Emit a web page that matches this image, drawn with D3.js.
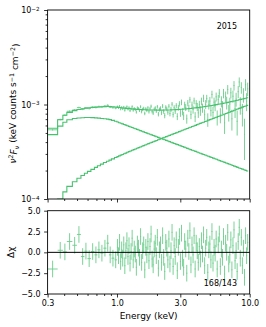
<!DOCTYPE html>
<html><head><meta charset="utf-8">
<script src="https://cdn.jsdelivr.net/npm/d3@7"></script>
<style>body{margin:0;background:#fff}svg{display:block}text{font-family:"DejaVu Sans",sans-serif;fill:#000}</style>
</head><body>
<script>
// ---- data ----
const UNIT = 1e-4;
// model grid (keV)
const modelEdges = [0.300,0.357,0.391,0.419,0.461,0.499,0.535,0.568,0.599,0.636,0.676,0.712,0.750,0.790,0.833,0.870,0.908,0.957,0.999,
1.028,1.058,1.088,1.119,1.151,1.184,1.218,1.252,1.288,1.325,1.363,1.401,1.441,1.482,1.525,1.568,1.613,1.659,1.706,1.755,
1.805,1.856,1.909,1.964,2.020,2.077,2.136,2.197,2.260,2.324,2.391,2.459,2.529,2.601,2.675,2.751,2.830,2.910,2.993,3.079,
3.166,3.257,3.349,3.445,3.543,3.644,3.748,3.855,3.965,4.078,4.194,4.313,4.436,4.563,4.693,4.826,4.964,5.105,5.251,5.400,
5.554,5.712,5.875,6.043,6.215,6.392,6.574,6.761,6.954,7.152,7.356,7.565,7.781,8.002,8.230,8.465,8.706,8.954,9.209,9.471,9.741];
// soft component (units 1e-4 keV counts s^-1 cm^-2)
const softComp = [4.8,5.9,6.5,6.9,7.1,7.2,7.25,7.28,7.28,7.26,7.22,7.17,7.12,7.06,7.0,6.92,6.80,6.66,
6.52,6.42,6.33,6.23,6.14,6.05,5.96,5.87,5.78,5.70,
5.61,5.53,5.45,5.37,5.29,5.21,5.13,5.06,4.98,4.91,
4.84,4.77,4.70,4.63,4.56,4.49,4.42,4.36,4.29,4.23,
4.17,4.11,4.05,3.99,3.93,3.87,3.81,3.76,3.70,3.65,
3.59,3.54,3.49,3.43,3.38,3.33,3.28,3.24,3.19,3.14,
3.09,3.05,3.00,2.96,2.92,2.87,2.83,2.79,2.75,2.71,
2.67,2.63,2.59,2.55,2.51,2.48,2.44,2.40,2.37,2.33,
2.30,2.26,2.23,2.20,2.16,2.13,2.10,2.07,2.04,2.01,1.98];
// absorbed power-law component
const powComp = [0.80,1.00,1.19,1.36,1.52,1.66,1.77,1.87,1.96,2.06,2.16,2.25,2.34,2.43,2.51,2.58,2.66,2.75,
2.81,2.86,2.91,2.96,3.01,3.06,3.12,3.17,3.22,3.28,
3.33,3.38,3.44,3.50,3.55,3.61,3.67,3.73,3.79,3.85,
3.91,3.97,4.03,4.10,4.16,4.23,4.30,4.36,4.43,4.50,
4.57,4.64,4.71,4.79,4.86,4.94,5.01,5.09,5.17,5.25,
5.33,5.41,5.50,5.58,5.67,5.75,5.84,5.93,6.02,6.12,
6.21,6.31,6.40,6.50,6.60,6.70,6.81,6.91,7.02,7.12,
7.23,7.34,7.46,7.57,7.69,7.80,7.92,8.04,8.17,8.29,
8.42,8.55,8.68,8.81,8.95,9.09,9.22,9.37,9.51,9.65,9.80];
// data grid (keV)
const dataEdges = [0.300,0.357,0.391,0.419,0.461,0.499,0.535,0.568,0.599,0.636,0.676,0.712,0.750,0.790,0.833,0.870,0.908,0.957,0.999,
1.017,1.036,1.055,1.075,1.094,1.114,1.135,1.156,1.177,1.199,1.221,1.243,1.266,1.289,1.313,1.337,1.362,1.387,1.412,1.438,
1.465,1.492,1.519,1.547,1.575,1.604,1.634,1.664,1.694,1.726,1.757,1.790,1.823,1.856,1.890,1.925,1.960,1.996,2.033,2.070,
2.109,2.147,2.187,2.227,2.268,2.310,2.352,2.395,2.439,2.484,2.530,2.576,2.624,2.672,2.721,2.771,2.822,2.874,2.927,2.980,
3.035,3.091,3.148,3.206,3.265,3.325,3.386,3.448,3.511,3.576,3.642,3.709,3.777,3.846,3.917,3.989,4.062,4.137,4.213,4.291,
4.369,4.450,4.532,4.615,4.700,4.787,4.875,4.964,5.056,5.149,5.243,5.340,5.438,5.538,5.639,5.743,5.849,5.956,6.066,6.177,
6.291,6.406,6.524,6.644,6.766,6.890,7.017,7.146,7.277,7.411,7.548,7.687,7.828,7.972,8.118,8.267,8.419,8.574,8.732,8.892,
9.056,9.222,9.391,9.564,9.741];
// residuals (delta chi), one per data bin
const residuals = [-2.0,0.25,0.05,1.3,0.85,2.15,-0.5,0.15,-0.75,0.1,-0.3,0.3,-0.1,0.5,1.1,-0.3,-0.7,-0.9,
0.6,-0.4,1.2,-1.1,0.3,-0.7,0.9,-1.6,0.2,1.4,
-0.5,0.8,-1.3,0.1,1.7,-0.9,0.4,-0.2,-1.8,1.0,
0.5,-0.6,1.9,-1.2,0.2,0.9,-2.1,0.6,-0.3,1.3,
-1.0,0.7,2.2,-0.8,-1.5,0.4,1.1,-0.4,1.8,-1.9,
0.3,0.9,-1.2,2.0,-0.6,-2.3,1.2,0.5,-0.9,1.6,
-1.4,0.2,2.4,-1.7,0.8,-0.5,1.5,-2.2,0.6,1.9,
-1.1,2.3,-0.7,-1.8,1.3,0.4,-2.5,1.7,0.1,2.6,
-1.5,0.9,-0.3,2.0,-2.0,1.1,0.2,-1.2,0.7,-0.8,
1.4,-0.2,2.1,-1.6,0.5,1.8,-2.4,0.3,1.0,-0.9,
2.5,-1.3,0.6,-0.1,1.6,-2.0,0.9,2.2,-1.7,0.4,
-0.6,1.9,-2.6,1.1,0.0,2.4,-1.4,-0.3,1.5,-2.1,
0.8,2.7,-1.0,0.2,-2.3,1.3,3.0,-0.7,1.8,-1.6,
0.5,-3.0,2.0,-0.4,1.2];
// relative 1-sigma error of each data bin
const relErr = [0.018,0.020,0.020,0.021,0.021,0.022,0.023,0.023,0.024,0.025,0.025,0.026,0.027,0.027,0.027,0.027,0.028,0.028,
0.028,0.028,0.029,0.029,0.030,0.030,0.030,0.031,0.031,0.032,
0.032,0.033,0.033,0.034,0.034,0.035,0.035,0.036,0.036,0.037,
0.037,0.038,0.038,0.039,0.039,0.040,0.040,0.041,0.041,0.042,
0.042,0.043,0.044,0.044,0.045,0.046,0.046,0.047,0.048,0.049,
0.050,0.051,0.052,0.053,0.054,0.055,0.056,0.057,0.058,0.059,
0.060,0.061,0.062,0.063,0.064,0.066,0.068,0.071,0.074,0.077,
0.080,0.081,0.082,0.084,0.085,0.086,0.087,0.088,0.090,0.091,
0.092,0.093,0.095,0.096,0.098,0.099,0.101,0.102,0.104,0.105,
0.107,0.109,0.110,0.112,0.113,0.115,0.117,0.118,0.120,0.121,
0.123,0.125,0.127,0.129,0.131,0.133,0.135,0.137,0.139,0.141,
0.143,0.145,0.147,0.149,0.152,0.154,0.156,0.158,0.161,0.163,
0.165,0.168,0.170,0.173,0.175,0.178,0.181,0.183,0.186,0.188,
0.191,0.194,0.196,0.199,0.202];
const xMajor = [0.3,1,3,10], xTickLabels = ["0.3","1.0","3.0","10.0"];
const xMinor = [0.4,0.5,0.6,0.7,0.8,0.9,2,4,5,6,7,8,9];
const yTopMajor = [1e-4,1e-3,1e-2], yTopExponents = ["−4","−3","−2"];
const yTopMinor = [2e-4,3e-4,4e-4,5e-4,6e-4,7e-4,8e-4,9e-4,2e-3,3e-3,4e-3,5e-3,6e-3,7e-3,8e-3,9e-3];
const yBotTicks = [-5,-2.5,0,2.5,5], yBotLabels = ["−5.0","−2.5","0.0","2.5","5.0"];
const yearLabel = "2015", chiLabel = "168/143";

// ---- layout ----
const W=266,H=327, L=47.6, R=249.7, T1=10, B1=199, T2=210.7, B2=294;
const modelColor = "#45c26d", dataColor = "#6dce8d";
const svg = d3.select("body").append("svg").attr("width",W).attr("height",H);
const x = d3.scaleLog().domain([0.3,10]).range([L,R]);
const yT = d3.scaleLog().domain([1e-4,1e-2]).range([B1,T1]);
const yB = d3.scaleLinear().domain([-5,5]).range([B2,T2]);

const defs = svg.append("defs");
defs.append("clipPath").attr("id","cT").append("rect").attr("x",L).attr("y",T1).attr("width",R-L).attr("height",B1-T1);
defs.append("clipPath").attr("id","cB").append("rect").attr("x",L).attr("y",T2).attr("width",R-L).attr("height",B2-T2);

const M = modelEdges.length-1;
const mbins = d3.range(M).map(i=>{
  const s=softComp[i]*UNIT, p=powComp[i]*UNIT;
  return {lo:modelEdges[i],hi:modelEdges[i+1],s,p,t:s+p};
});
const N = dataEdges.length-1;
const bins = d3.range(N).map(i=>{
  const lo=dataEdges[i], hi=dataEdges[i+1], c=Math.sqrt(lo*hi);
  const mi = Math.min(M-1, Math.max(0, d3.bisectRight(modelEdges,c)-1));
  const t = mbins[mi].t, e = relErr[i]*t;
  return {lo,hi,c,r:residuals[i],err:e,d:t+residuals[i]*e};
});

// ---- top panel ----
const gT = svg.append("g").attr("clip-path","url(#cT)");
gT.selectAll("line.dv").data(bins).join("line").attr("x1",d=>x(d.c)).attr("x2",d=>x(d.c))
  .attr("y1",d=>yT(d.d-d.err)).attr("y2",d=>yT(d.d+d.err)).attr("stroke",dataColor).attr("stroke-width",1).attr("opacity",0.9);
gT.selectAll("line.dh").data(bins).join("line").attr("x1",d=>x(d.lo)).attr("x2",d=>x(d.hi))
  .attr("y1",d=>yT(d.d)).attr("y2",d=>yT(d.d)).attr("stroke",dataColor).attr("stroke-width",1).attr("opacity",0.9);
const step = key => {
  const pts = mbins.map(b=>[x(b.lo),yT(Math.max(b[key],1e-6))]);
  pts.push([x(mbins[M-1].hi), yT(mbins[M-1][key])]);
  return d3.line().curve(d3.curveStepAfter)(pts);
};
["t","s","p"].forEach(k=>gT.append("path").attr("d",step(k)).attr("fill","none").attr("stroke",modelColor).attr("stroke-width",1.1));

// ---- bottom panel ----
const gB = svg.append("g").attr("clip-path","url(#cB)");
gB.selectAll("line.rv").data(bins).join("line").attr("x1",d=>x(d.c)).attr("x2",d=>x(d.c))
  .attr("y1",d=>yB(d.r-1)).attr("y2",d=>yB(d.r+1)).attr("stroke",dataColor).attr("stroke-width",1).attr("opacity",0.9);
gB.selectAll("line.rh").data(bins).join("line").attr("x1",d=>x(d.lo)).attr("x2",d=>x(d.hi))
  .attr("y1",d=>yB(d.r)).attr("y2",d=>yB(d.r)).attr("stroke",dataColor).attr("stroke-width",1).attr("opacity",0.9);
svg.append("line").attr("x1",L).attr("x2",R).attr("y1",yB(0)).attr("y2",yB(0)).attr("stroke","#000").attr("stroke-width",1);

// ---- axes ----
function styleAxis(g){ g.select(".domain").remove(); g.selectAll(".tick line").attr("stroke","#000").attr("stroke-width",0.8);
  g.selectAll(".tick text").attr("font-size",8).attr("font-family","DejaVu Sans"); }
svg.append("g").attr("transform",`translate(0,${B1})`).call(d3.axisBottom(x).tickValues(xMajor).tickSize(3.5).tickFormat("")).call(styleAxis);
svg.append("g").attr("transform",`translate(0,${B1})`).call(d3.axisBottom(x).tickValues(xMinor).tickSize(2).tickFormat("")).call(styleAxis);
const gyT = svg.append("g").attr("transform",`translate(${L},0)`).call(d3.axisLeft(yT).tickValues(yTopMajor).tickSize(3.5).tickPadding(4.5).tickFormat(()=>"")).call(styleAxis);
gyT.selectAll(".tick text").each(function(d,i){ const t=d3.select(this); t.attr("dy","0.32em");
  t.append("tspan").text("10"); t.append("tspan").attr("dy","-0.45em").attr("font-size",5.6).text(yTopExponents[i]); });
svg.append("g").attr("transform",`translate(${L},0)`).call(d3.axisLeft(yT).tickValues(yTopMinor).tickSize(2).tickFormat("")).call(styleAxis);
svg.append("g").attr("transform",`translate(0,${B2})`).call(d3.axisBottom(x).tickValues(xMajor).tickSize(3.5).tickPadding(3).tickFormat((d,i)=>xTickLabels[i])).call(styleAxis);
svg.append("g").attr("transform",`translate(0,${B2})`).call(d3.axisBottom(x).tickValues(xMinor).tickSize(2).tickFormat("")).call(styleAxis);
svg.append("g").attr("transform",`translate(${L},0)`).call(d3.axisLeft(yB).tickValues(yBotTicks).tickSize(3.5).tickPadding(3.5).tickFormat((d,i)=>yBotLabels[i])).call(styleAxis);

[[T1,B1],[T2,B2]].forEach(([t,b])=>svg.append("rect").attr("x",L).attr("y",t).attr("width",R-L).attr("height",b-t)
  .attr("fill","none").attr("stroke","#000").attr("stroke-width",0.9));

// labels
const yl = svg.append("text").attr("transform",`translate(16,${(T1+B1)/2 - 1}) rotate(-90)`).attr("text-anchor","middle").attr("font-size",9);
yl.append("tspan").attr("font-style","italic").text("ν");
yl.append("tspan").attr("dy","-0.4em").attr("font-size",6.3).text("2");
yl.append("tspan").attr("dy","0.4em").attr("font-style","italic").text("F");
yl.append("tspan").attr("dy","0.25em").attr("font-size",6.3).attr("font-style","italic").text("ν");
yl.append("tspan").attr("dy","-0.25em").text(" (keV counts s");
yl.append("tspan").attr("dy","-0.4em").attr("font-size",6.3).text("−1");
yl.append("tspan").attr("dy","0.4em").text(" cm");
yl.append("tspan").attr("dy","-0.4em").attr("font-size",6.3).text("−2");
yl.append("tspan").attr("dy","0.4em").text(")");
svg.append("text").attr("transform",`translate(13.5,${(T2+B2)/2}) rotate(-90)`).attr("text-anchor","middle").attr("font-size",9).text("Δχ");
svg.append("text").attr("x",(L+R)/2).attr("y",318.5).attr("text-anchor","middle").attr("font-size",9).text("Energy (keV)");
svg.append("text").attr("x",237).attr("y",28.7).attr("text-anchor","end").attr("font-size",8).text(yearLabel);
svg.append("text").attr("x",237).attr("y",285.5).attr("text-anchor","end").attr("font-size",8).text(chiLabel);
</script>
</body></html>
